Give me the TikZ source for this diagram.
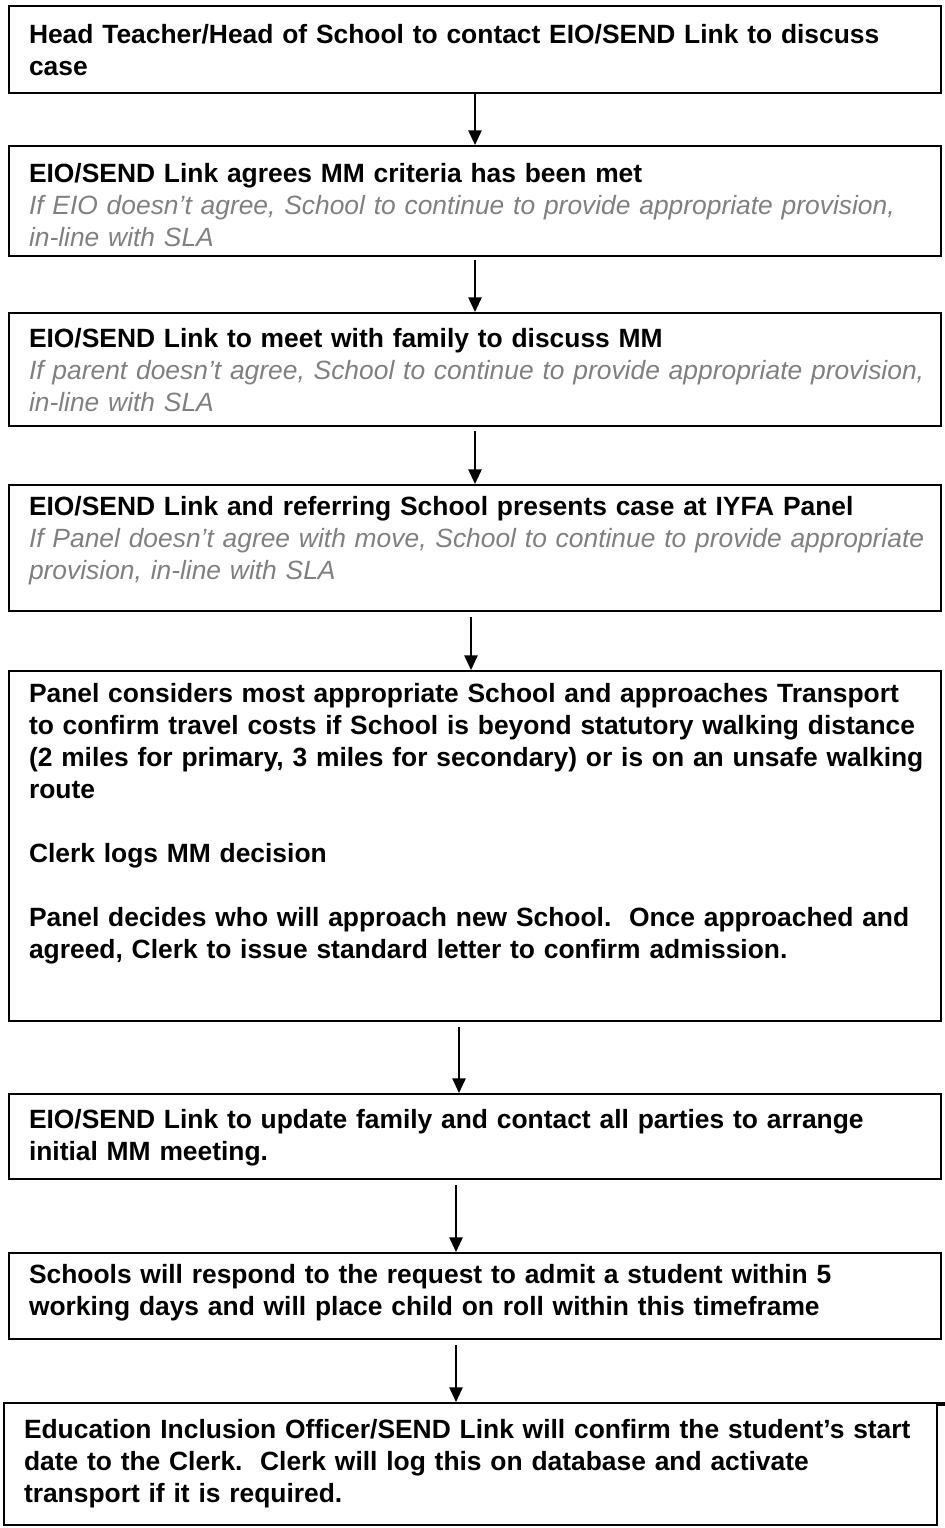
\documentclass[tikz,border=0pt]{standalone}
\usepackage{fontspec}
\setmainfont{Liberation Sans}
\usepackage{xcolor}
\usepackage{tikz}
\usetikzlibrary{arrows.meta}

\definecolor{notegrey}{RGB}{128,128,128}
\newcommand{\boxfont}{\fontsize{19.8}{24}\selectfont\bfseries}
\newcommand{\ifnot}[1]{{\color{notegrey}\mdseries\itshape #1}}

\begin{document}
\begin{tikzpicture}[x=0.75pt, y=-0.75pt, >={Triangle[width=10pt,length=11pt]}, line width=1.5pt,
  stepbox/.style={draw, anchor=north west, inner sep=0pt, text width=699pt, align=left, font=\boxfont,
    execute at begin node={\leftskip=15pt\rightskip=-40pt plus 1fil}},
  flow/.style={->, line width=1.2pt}]
\useasboundingbox (0,0) rectangle (945,1528);

\node [stepbox, text height=27.75pt, text depth=37.5pt] (contact) at (8,5)
  {Head Teacher/Head of School to contact EIO/SEND Link to discuss\\case};
\node [stepbox, text height=27pt, text depth=55.5pt] (agree) at (8,145)
  {EIO/SEND Link agrees MM criteria has been met\\
   \ifnot{If EIO doesn’t agree, School to continue to provide appropriate provision,\\in-line with SLA}};
\node [stepbox, text height=25.5pt, text depth=59.25pt] (family) at (8,312)
  {EIO/SEND Link to meet with family to discuss MM\\
   \ifnot{If parent doesn’t agree, School to continue to provide appropriate provision,\\in-line with SLA}};
\node [stepbox, text height=22.5pt, text depth=72pt] (panel) at (8,484)
  {EIO/SEND Link and referring School presents case at IYFA Panel\\
   \ifnot{If Panel doesn’t agree with move, School to continue to provide appropriate\\provision, in-line with SLA}};
\node [stepbox, text height=23.25pt, text depth=239.25pt] (decide) at (8,670)
  {Panel considers most appropriate School and approaches Transport\\
   to confirm travel costs if School is beyond statutory walking distance\\
   (2 miles for primary, 3 miles for secondary) or is on an unsafe walking\\
   route\\[24pt]
   Clerk logs MM decision\\[24pt]
   Panel decides who will approach new School.\ \ Once approached and\\
   agreed, Clerk to issue standard letter to confirm admission.};
\node [stepbox, text height=25.5pt, text depth=38.25pt] (update) at (8,1093)
  {EIO/SEND Link to update family and contact all parties to arrange\\initial MM meeting.};
\node [stepbox, text height=22.5pt, text depth=42pt] (respond) at (8,1252)
  {Schools will respond to the request to admit a student within 5\\
   working days and will place child on roll within this timeframe};
\node [stepbox, text width=699.75pt, text height=26.25pt, text depth=65.25pt] (confirm) at (3,1402)
  {Education Inclusion Officer/SEND Link will confirm the student’s start\\
   date to the Clerk.\ \ Clerk will log this on database and activate\\
   transport if it is required.};
\draw [line width=2.5pt] ([yshift=-1.5pt]confirm.north east) -- ++(9,0);

\path [flow]
(contact) edge (agree)
(agree) edge [shorten <=2pt] (family)
(family) edge [shorten <=3pt] (panel)
([xshift=-3pt]panel.south) edge [shorten <=3.75pt] ([xshift=-3pt]decide.north)
([xshift=-12pt]decide.south) edge [shorten <=3.75pt] ([xshift=-12pt]update.north)
([xshift=-14.25pt]update.south) edge [shorten <=3.75pt] ([xshift=-14.25pt]respond.north)
([xshift=-14.25pt]respond.south) edge [shorten <=3.75pt] ([xshift=-14.25pt]respond.south |- confirm.north);
\end{tikzpicture}
\end{document}
